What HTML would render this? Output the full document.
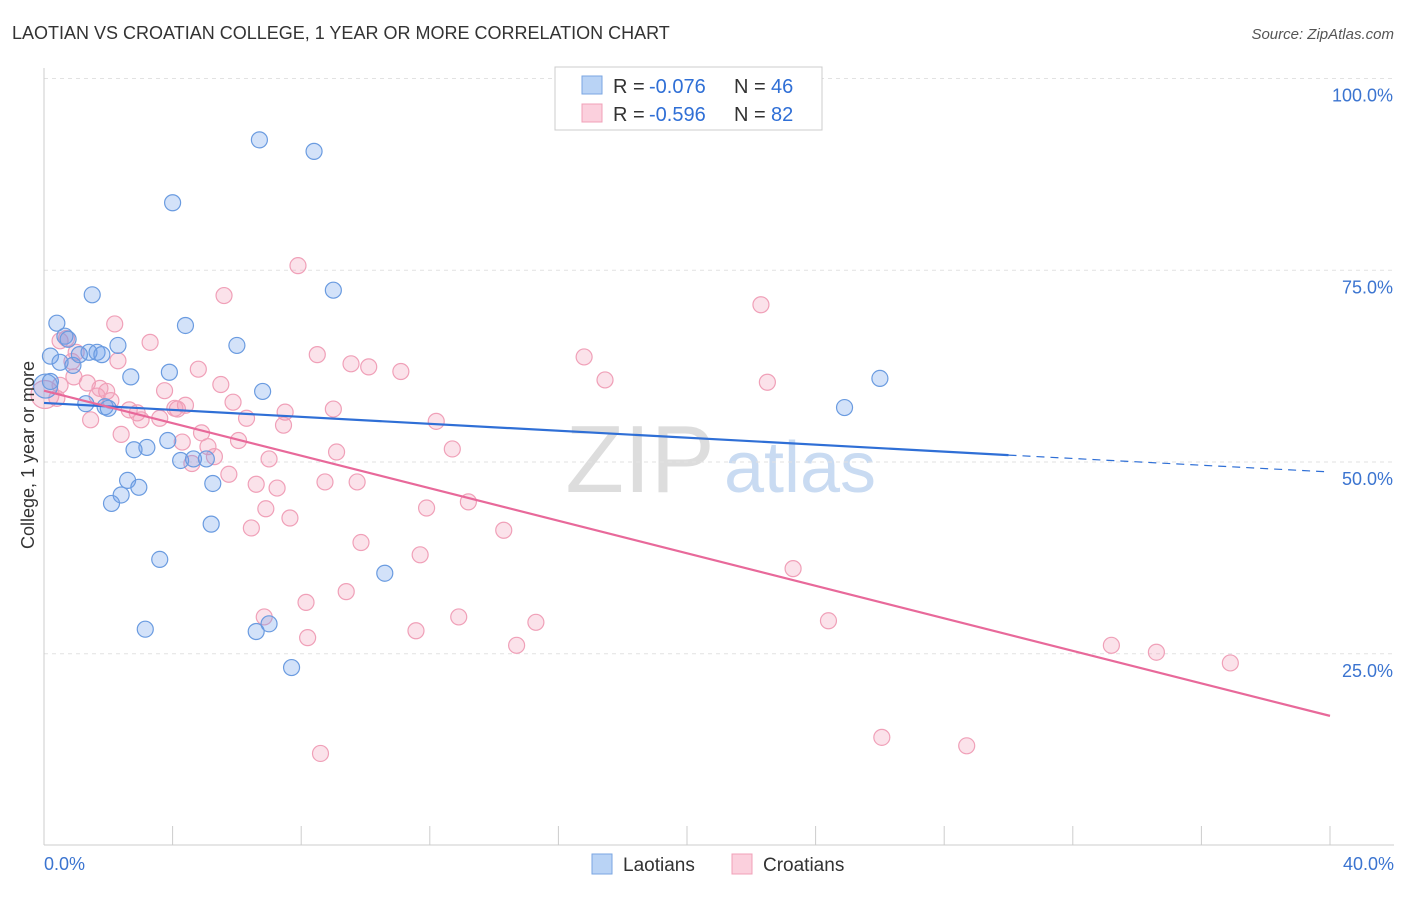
<!DOCTYPE html>
<html><head><meta charset="utf-8">
<style>
body{margin:0;background:#fff;font-family:"Liberation Sans",sans-serif;}
svg text{font-family:"Liberation Sans",sans-serif;}
</style></head>
<body>
<svg id="c" width="1406" height="892" viewBox="0 0 1406 892">
<text x="12" y="39" font-size="18" fill="#333">LAOTIAN VS CROATIAN COLLEGE, 1 YEAR OR MORE CORRELATION CHART</text>
<text x="1394" y="39" font-size="15" fill="#555" font-style="italic" text-anchor="end">Source: ZipAtlas.com</text>
<text x="640" y="492" font-size="96" fill="#ddd" font-family="Liberation Serif" text-anchor="middle">ZIP</text>
<text x="800" y="492" font-size="72" fill="#c9dbf2" text-anchor="middle">atlas</text>
<g id="grid"></g>
<g id="axes"></g>
<g id="pts"></g>
<g id="lines"></g>
<text x="34" y="455" font-size="18" fill="#333" text-anchor="middle" transform="rotate(-90 34 455)">College, 1 year or more</text>
<g>
<rect x="555" y="67" width="267" height="63" fill="#fff" stroke="#ccc"/>
<rect x="582" y="76" width="20" height="18" fill="#b9d3f5" stroke="#7aa6e2"/>
<rect x="582" y="104" width="20" height="18" fill="#fbd0dd" stroke="#f0a0b8"/>
<text y="93" font-size="20" fill="#333"><tspan x="613">R =</tspan><tspan x="649" fill="#2f6fd6">-0.076</tspan><tspan x="734">N =</tspan><tspan x="771" fill="#2f6fd6">46</tspan></text>
<text y="121" font-size="20" fill="#333"><tspan x="613">R =</tspan><tspan x="649" fill="#2f6fd6">-0.596</tspan><tspan x="734">N =</tspan><tspan x="771" fill="#2f6fd6">82</tspan></text>
</g>
<g>
<rect x="592" y="854" width="20" height="20" fill="#b9d3f5" stroke="#7aa6e2"/>
<text x="623" y="871" font-size="19" fill="#333">Laotians</text>
<rect x="732" y="854" width="20" height="20" fill="#fbd0dd" stroke="#f0a0b8"/>
<text x="763" y="871" font-size="19" fill="#333">Croatians</text>
</g>
</svg>
<script>
const yTicks=[25,50,75,100];
const yTickLabels=["25.0%","50.0%","75.0%","100.0%"];
const xTickLabels=["0.0%","40.0%"];
const blueX=[6.7,8.4,4.0,1.5,9.0,0.4,0.65,4.4,2.3,6.0,0.2,0.9,1.4,1.65,1.1,2.7,3.9,6.8,26.0,24.9,1.3,1.9,3.85,3.2,2.8,4.25,4.65,5.05,5.25,2.6,2.95,2.4,2.1,5.2,3.6,10.6,3.15,6.6,7.0,7.7,0.05,0.2,0.75,0.5,2.0,1.8];
const blueY=[92.0,90.5,83.8,71.8,72.4,68.1,66.4,67.8,65.2,65.2,63.8,62.6,64.3,64.3,64.0,61.1,61.7,59.2,60.9,57.1,57.6,57.2,52.8,51.9,51.6,50.2,50.4,50.4,47.2,47.6,46.7,45.7,44.6,41.9,37.3,35.5,28.2,27.9,28.9,23.2,59.9,60.5,66.0,63.0,57.0,64.0];
const pinkX=[7.9,5.6,22.3,2.2,3.3,0.5,0.7,8.5,9.55,10.1,16.8,1.0,2.3,4.8,11.1,17.45,22.5,1.35,5.5,3.75,1.95,1.65,0.03,2.65,2.9,3.6,4.15,4.4,7.5,9.0,6.3,7.45,6.05,1.45,2.4,4.9,4.3,5.1,9.1,12.7,12.2,7.0,5.3,4.6,5.75,6.6,8.74,9.74,7.25,6.9,7.65,11.9,13.2,14.3,6.45,9.86,11.7,23.3,9.4,8.15,6.85,12.9,15.3,24.4,11.57,8.2,14.7,33.2,34.6,36.9,26.06,28.7,8.6,0.5,0.87,2.08,3.02,0.4,1.74,0.93,4.07,5.88];
const pinkY=[75.6,71.7,70.5,68.0,65.6,65.8,66.1,64.0,62.8,62.4,63.7,64.3,63.2,62.1,61.8,60.7,60.4,60.3,60.1,59.3,59.2,58.6,58.8,56.8,56.4,55.7,56.9,57.4,56.5,56.9,55.7,54.8,52.8,55.5,53.6,53.8,52.6,52.0,51.3,51.7,55.3,50.4,50.7,49.8,48.4,47.1,47.4,47.4,46.6,43.9,42.7,44.0,44.8,41.1,41.4,39.5,37.9,36.1,33.1,31.7,29.8,29.8,29.1,29.3,28.0,27.1,26.1,26.1,25.2,23.8,14.1,13.0,12.0,60.0,63.1,58.0,55.5,58.3,59.6,61.1,57.0,57.8];
const blueLine=[[0,57.7],[30,50.9],[40,48.7]];
const pinkLine=[[0,59.3],[40,16.9]];
const X=v=>44+v*32.15, Y=v=>462-(v-50)*7.67;
const NS="http://www.w3.org/2000/svg";
function mk(t,a,p){const e=document.createElementNS(NS,t);for(const k in a)e.setAttribute(k,a[k]);p.appendChild(e);return e;}
const grid=document.getElementById('grid'),axes=document.getElementById('axes'),pts=document.getElementById('pts'),lines=document.getElementById('lines');
yTicks.forEach((v,i)=>{
 const l=mk('line',{x1:44,x2:1394,y1:Y(v),y2:Y(v),stroke:'#e2e2e2','stroke-dasharray':'4,4'},grid);
 
 
 const t=mk('text',{x:1393,y:Y(v)+23,'font-size':18,fill:'#3b74d0','text-anchor':'end'},axes);
 t.textContent=yTickLabels[i];
 
 
});
let ax=mk('line',{x1:44,x2:1394,y1:845,y2:845,stroke:'#ccc'},axes);


ax=mk('line',{x1:44,x2:44,y1:68,y2:845,stroke:'#ccc'},axes);


for(let i=0;i<=10;i++){
 const tk=mk('line',{x1:X(i*4),x2:X(i*4),y1:826,y2:845,stroke:'#ccc'},axes);
 
 
}
[[0,'start',44],[1,'end',1394]].forEach(([i,a,x])=>{
 const t=mk('text',{x:x,y:870,'font-size':18,fill:'#3b74d0','text-anchor':a},axes);
 t.textContent=xTickLabels[i];
 
 
});
pinkX.forEach((v,i)=>{
 const c=mk('circle',{cx:X(v),cy:Y(pinkY[i]),r:(v<0.1?14:8),fill:'rgba(242,150,180,0.28)',stroke:'#f0a0b8','stroke-width':1.2},pts);
 
 
});
blueX.forEach((v,i)=>{
 const c=mk('circle',{cx:X(v),cy:Y(blueY[i]),r:(v<0.1?12:8),fill:'rgba(110,160,235,0.3)',stroke:'#6a9be0','stroke-width':1.2},pts);
 
 
});
let l=mk('line',{x1:X(blueLine[0][0]),y1:Y(blueLine[0][1]),x2:X(blueLine[1][0]),y2:Y(blueLine[1][1]),stroke:'#2f6fd6','stroke-width':2.2},lines);


l=mk('line',{x1:X(blueLine[1][0]),y1:Y(blueLine[1][1]),x2:X(blueLine[2][0]),y2:Y(blueLine[2][1]),stroke:'#2f6fd6','stroke-width':1.2,'stroke-dasharray':'8,6'},lines);


l=mk('line',{x1:X(pinkLine[0][0]),y1:Y(pinkLine[0][1]),x2:X(pinkLine[1][0]),y2:Y(pinkLine[1][1]),stroke:'#e8699a','stroke-width':2.2},lines);


</script>
</body></html>
